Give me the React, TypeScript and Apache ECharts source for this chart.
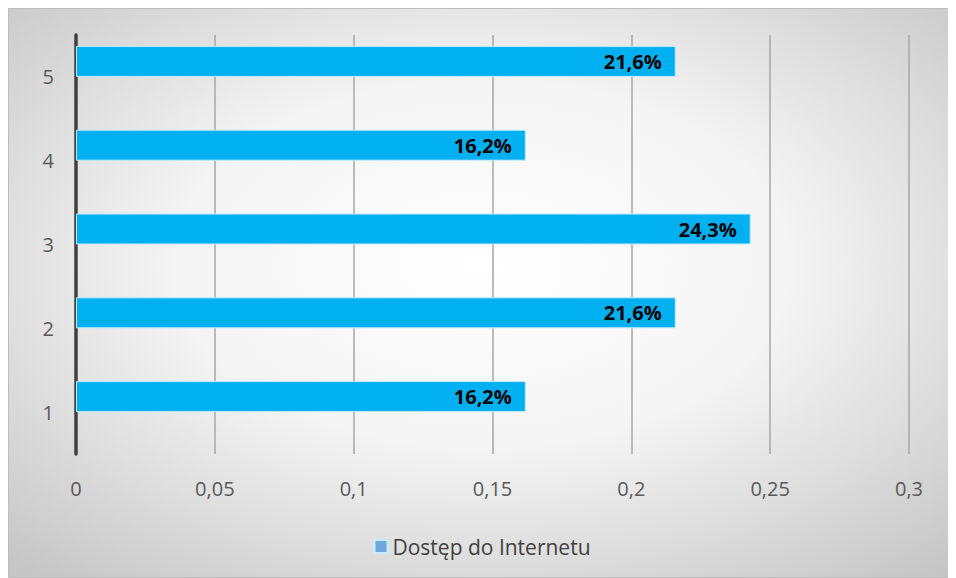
import React, { useEffect, useRef } from "react";
import * as echarts from "echarts";

const categories = ["1", "2", "3", "4", "5"];
const values = [0.162, 0.216, 0.243, 0.162, 0.216];
const seriesName = "Dostęp do Internetu";
const xTicks = [0, 0.05, 0.1, 0.15, 0.2, 0.25, 0.3];

const FONT = "'Open Sans', sans-serif";

export default function App() {
  const ref = useRef<HTMLDivElement>(null);
  useEffect(() => {
    document.body.style.overflow = "hidden";
    const chart = echarts.init(ref.current!, undefined, { renderer: "svg" });
    chart.setOption({
      animation: false,
      backgroundColor: {
        type: "radial",
        x: 0.5,
        y: 0.45,
        r: 0.72,
        colorStops: [
          { offset: 0, color: "#ffffff" },
          { offset: 0.45, color: "#f4f4f4" },
          { offset: 1, color: "#c6c6c6" },
        ],
      },
      grid: { left: 67, right: 46, top: 26, bottom: 123, containLabel: false },
      legend: {
        data: [{ name: seriesName, itemStyle: { color: "#6fa8dc" } }],
        bottom: 15,
        left: "center",
        icon: "rect",
        itemWidth: 13,
        itemHeight: 13,
        itemGap: 6,
        textStyle: { fontFamily: FONT, fontSize: 21, color: "#404040" },
      },
      xAxis: {
        type: "value",
        min: xTicks[0],
        max: xTicks[xTicks.length - 1],
        interval: 0.05,
        axisLine: { show: false },
        axisTick: { show: false },
        splitLine: { lineStyle: { color: "#a6a6a6", width: 1.5 } },
        axisLabel: {
          margin: 24,
          fontFamily: FONT,
          fontSize: 20,
          color: "#595959",
          formatter: (v: number) => String(+v.toFixed(2)).replace(".", ","),
        },
      },
      yAxis: {
        type: "category",
        data: categories,
        axisLine: { show: true, lineStyle: { color: "#404040", width: 3.5 } },
        axisTick: { show: false },
        axisLabel: { margin: 22, fontFamily: FONT, fontSize: 20, color: "#595959" },
      },
      series: [
        {
          name: seriesName,
          type: "bar",
          data: values,
          barWidth: 31,
          barGap: "0%",
          itemStyle: { color: "#00b0f0", borderColor: "#c5ecfb", borderWidth: 1 },
          label: {
            show: true,
            position: "insideRight",
            distance: 14,
            fontFamily: FONT,
            fontWeight: "bold",
            fontSize: 20,
            color: "#000000",
            formatter: (p: any) => (p.value * 100).toFixed(1).replace(".", ",") + "%",
          },
        },
        {
          name: "_empty",
          type: "bar",
          data: values.map(() => null),
          barWidth: 31,
          barGap: "0%",
        },
      ],
    });
    return () => chart.dispose();
  }, []);
  return (
    <div
      ref={ref}
      style={{ width: 948, height: 570, boxSizing: "border-box", border: "1px solid #bdbdbd" }}
    />
  );
}
